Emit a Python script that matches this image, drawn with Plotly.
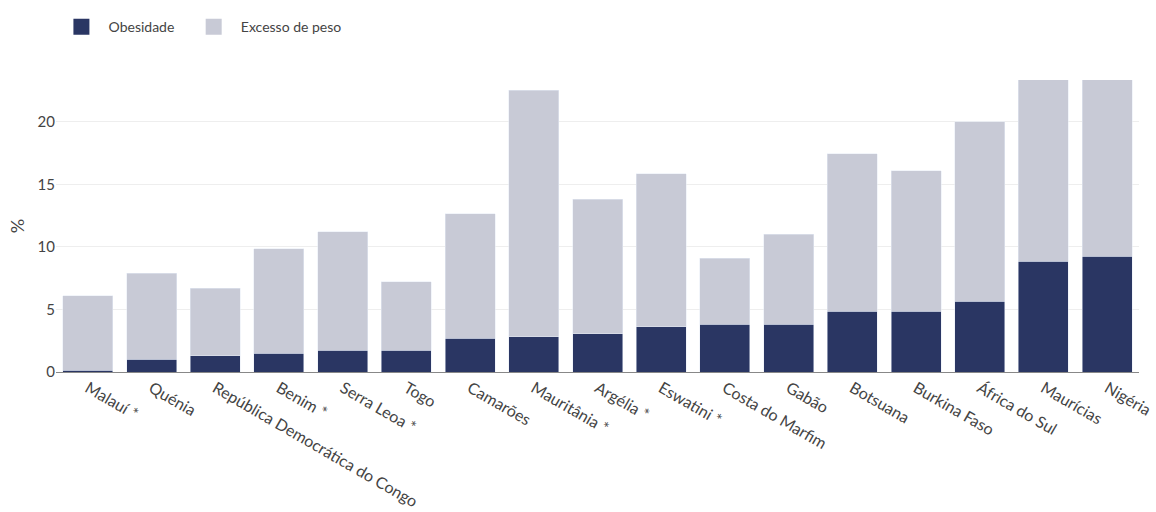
import plotly.graph_objects as go

paises = ["Malauí *", "Quénia", "República Democrática do Congo", "Benim *", "Serra Leoa *",
          "Togo", "Camarões", "Mauritânia *", "Argélia *", "Eswatini *", "Costa do Marfim",
          "Gabão", "Botsuana", "Burkina Faso", "África do Sul", "Maurícias", "Nigéria"]
obesidade = [0.15, 1.0, 1.3, 1.5, 1.75, 1.75, 2.7, 2.8, 3.05, 3.6, 3.8, 3.8, 4.85, 4.85, 5.65, 8.85, 9.25]
total_excesso = [6.1, 7.9, 6.7, 9.85, 11.2, 7.2, 12.65, 22.55, 13.8, 15.85, 9.1, 11.0, 17.45, 16.1, 20.0, 25.0, 25.0]
excesso_extra = [round(t - o, 2) for t, o in zip(total_excesso, obesidade)]

cor_obes = "#2a3663"
cor_exc = "#c8cad6"
nb = "\u00a0"

fig = go.Figure()
fig.add_trace(go.Bar(x=paises, y=obesidade, name="Obesidade", marker_color=cor_obes, showlegend=False))
fig.add_trace(go.Bar(x=paises, y=excesso_extra, name="Excesso de peso", marker_color=cor_exc, showlegend=False))
fig.add_trace(go.Scatter(x=[None], y=[None], mode="markers", name=nb * 2 + "Obesidade" + nb * 4,
                         marker=dict(symbol="square", size=18, color=cor_obes)))
fig.add_trace(go.Scatter(x=[None], y=[None], mode="markers", name=nb * 2 + "Excesso de peso",
                         marker=dict(symbol="square", size=18, color=cor_exc)))

fig.update_layout(
    barmode="stack",
    bargap=0.215,
    width=1156, height=512,
    margin=dict(l=56, r=17, t=80, b=140),
    paper_bgcolor="white", plot_bgcolor="white",
    font=dict(family="Lato", size=15, color="#444444"),
    legend=dict(orientation="h", x=0.005, xanchor="left", y=0.978, yref="container",
                yanchor="top", font=dict(size=14, color="#444444"), traceorder="normal",
                bgcolor="rgba(0,0,0,0)"),
    xaxis=dict(tickangle=30, showgrid=False, linecolor="#888888", linewidth=1, ticks="",
               tickfont=dict(size=16), automargin=False),
    yaxis=dict(range=[0, 23.35], tickvals=[0, 5, 10, 15, 20], gridcolor="#eeeeee",
               zeroline=False, showline=False, title=dict(text="%", standoff=8)),
)
fig.write_html("out.html")
